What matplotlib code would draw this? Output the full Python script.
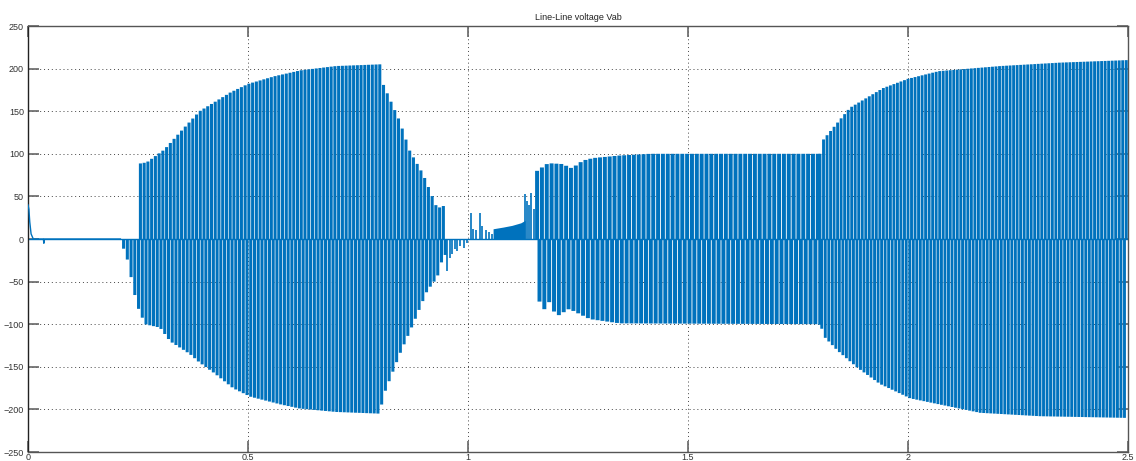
import numpy as np
import matplotlib
matplotlib.use("Agg")
import matplotlib.pyplot as plt

BLUE = "#0072BD"

# upper envelope of the line-line voltage (time s, volts)
pos_t = [0.248, 0.27, 0.31, 0.345, 0.39, 0.46, 0.50, 0.56, 0.62, 0.70, 0.80,
         0.807, 0.845, 0.868, 0.898, 0.914, 0.93,
         1.157, 1.182, 1.214, 1.236, 1.261, 1.284, 1.345, 1.414, 1.80,
         1.805, 1.868, 1.943, 2.0, 2.07, 2.21, 2.345, 2.5]
pos_v = [88, 90, 105, 125, 150, 172, 182, 191, 198, 203, 205,
         182, 138, 103, 76, 56, 36,
         80, 89, 88, 83, 92, 95, 98, 100, 100,
         115, 154, 177, 188, 197, 203, 207, 210]

# lower envelope
neg_t = [0.213, 0.227, 0.239, 0.248, 0.266, 0.30, 0.323, 0.368, 0.39, 0.425,
         0.466, 0.505, 0.573, 0.618, 0.70, 0.80,
         0.807, 0.845, 0.875, 0.907, 0.93, 0.945,
         1.157, 1.17, 1.19, 1.198, 1.23, 1.277, 1.345, 1.80,
         1.812, 1.84, 1.885, 1.936, 2.005, 2.089, 2.164, 2.30, 2.5]
neg_v = [-5, -26, -57, -78, -100, -104, -120, -135, -145, -158,
         -175, -185, -194, -199, -203, -205,
         -185, -135, -100, -61, -45, -18,
         -65, -85, -70, -92, -82, -94, -99, -100,
         -116, -131, -151, -170, -187, -196, -204, -208, -210]

# switching bursts: start, end, pulse spacing
burst_start = [0.213, 1.157, 1.80]
burst_end = [0.95, 1.80, 2.5]
burst_dt = [0.0085, 0.0110, 0.0080]

# isolated transients between the bursts
spike_t = [0.952, 0.958, 0.964, 0.970, 0.976, 0.982, 0.990, 0.998,
           1.007, 1.012, 1.018, 1.027, 1.032, 1.040, 1.048, 1.054,
           1.130, 1.134, 1.139, 1.144, 1.150]
spike_v = [-37, -22, -18, -12, -14, -8, -10, -5,
           30, 12, 10, 31, 15, 10, 8, 6,
           53, 45, 40, 54, 35]

# dc block before restart
block_t = [1.057, 1.08, 1.10, 1.12, 1.13]
block_v = [12, 14, 16, 19, 22]

# start-up decay
start_t = [0.0, 0.002, 0.004, 0.007, 0.012, 0.035, 0.036, 0.037, 0.21]
start_v = [40, 35, 20, 6, 0, 0, -5, 0, 0]

fig = plt.figure(figsize=(11.36, 4.61), dpi=100)
ax = fig.add_axes([28 / 1136, 9 / 461, 1100 / 1136, 426 / 461])

ax.plot([0, 2.5], [0, 0], color=BLUE, lw=1, zorder=2)
ax.plot(start_t, start_v, color=BLUE, lw=1, zorder=3)

for t0, t1, dt in zip(burst_start, burst_end, burst_dt):
    tp = np.arange(t0, t1, dt)
    tn = tp + dt / 2
    hp = np.interp(tp, pos_t, pos_v, left=0, right=0)
    hn = np.interp(tn, neg_t, neg_v, left=0, right=0)
    ax.bar(tp, hp, width=dt * 0.82, color=BLUE, linewidth=0, zorder=3,
           snap=False)
    ax.bar(tn, hn, width=dt * 0.82, color=BLUE, linewidth=0, zorder=3,
           snap=False)

ax.vlines(spike_t, 0, spike_v, color=BLUE, lw=1.2, zorder=3)
ax.fill_between(block_t, 0, block_v, color=BLUE, lw=0, zorder=3)

ax.set_xlim(0, 2.5)
ax.set_ylim(-250, 250)
ax.set_xticks([0, 0.5, 1, 1.5, 2, 2.5])
ax.set_xticklabels(["0", "0.5", "1", "1.5", "2", "2.5"])
ax.set_yticks(range(-250, 251, 50))

ax.grid(True, color="#444444", linestyle=(0, (1, 3)), lw=0.7)
ax.set_axisbelow(True)
ax.tick_params(direction="in", length=8, width=1.2, color="#666666",
               labelsize=6.5, labelcolor="#333333", pad=3,
               top=True, right=True)
ax.tick_params(axis="x", pad=1)
for lab in ax.get_xticklabels() + ax.get_yticklabels():
    lab.set_family("Liberation Sans")
for s in ax.spines.values():
    s.set_color("#555555")
    s.set_linewidth(1)
ax.spines["left"].set_color("#222222")

ax.set_title("Line-Line voltage Vab", fontsize=6.5, family="Liberation Sans",
             color="#222222", pad=4)

fig.savefig("out.png", dpi=100)
